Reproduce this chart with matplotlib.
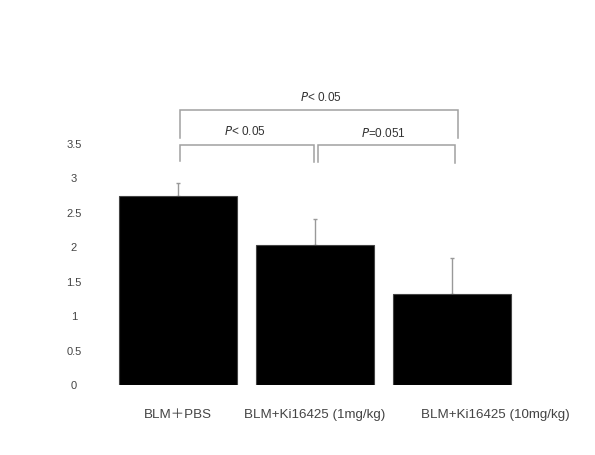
import matplotlib
matplotlib.use("Agg")
import matplotlib.pyplot as plt
from matplotlib.transforms import ScaledTranslation

plt.rcParams['font.family'] = ['Liberation Sans', 'Noto Sans CJK SC', 'DejaVu Sans']

categories = ["BLM\uff0bPBS", "BLM+Ki16425 (1mg/kg)", "BLM+Ki16425 (10mg/kg)"]
values = [2.74, 2.03, 1.32]
errors = [0.19, 0.38, 0.52]
yticks = [0, 0.5, 1, 1.5, 2, 2.5, 3, 3.5]
ytick_labels = ["0", "0.5", "1", "1.5", "2", "2.5", "3", "3.5"]
# brackets: (left x, right x, height, left drop, right drop, label, label x, label y)
brackets = [
    (0.015, 2.04, 3.99, 3.58, 3.58, r"$\it{P}$< 0.05", 1.04, 4.17),
    (0.015, 0.99, 3.48, 3.25, 3.23, r"$\it{P}$< 0.05", 0.49, 3.67),
    (1.02, 2.02, 3.48, 3.23, 3.22, r"$\it{P}$=0.051", 1.50, 3.64),
]

fig = plt.figure(figsize=(5.95, 4.55), dpi=100)
ax = fig.add_axes([0.138, 0.1538, 0.829, 0.6976])
x = list(range(len(categories)))
ax.bar(x, values, width=0.86, color="black", edgecolor="#444444", linewidth=0.8,
       zorder=2)
ax.errorbar(x, values, yerr=[[0]*len(errors), errors], fmt="none",
            ecolor="#999999", elinewidth=1.0, capsize=1.2, capthick=1.0, zorder=1)

ax.set_xlim(-0.7, 2.9)
ax.set_ylim(0, 4.6)
ax.set_yticks(yticks)
ax.set_yticklabels(ytick_labels, fontsize=8, color="#444444", ha="center")
ax.tick_params(axis="y", length=0, pad=6)
ax.set_xticks(x)
ax.set_xticklabels(categories, fontsize=9.6, color="#444444")
ax.tick_params(axis="x", length=0, pad=17)
offsets_px = [0, 0, 43]
for lab, dx in zip(ax.get_xticklabels(), offsets_px):
    lab.set_transform(lab.get_transform() + ScaledTranslation(dx / 100, 0, fig.dpi_scale_trans))
for s in ax.spines.values():
    s.set_visible(False)

for (x0, x1, h, d0, d1, txt, tx, ty) in brackets:
    ax.plot([x0, x0, x1, x1], [d0, h, h, d1], color="#a0a0a0", lw=1.1,
            clip_on=False, solid_joinstyle="miter")
    ax.text(tx, ty, txt, ha="center", va="center", fontsize=8.5, color="#333333")

fig.savefig("out.png", dpi=100)
